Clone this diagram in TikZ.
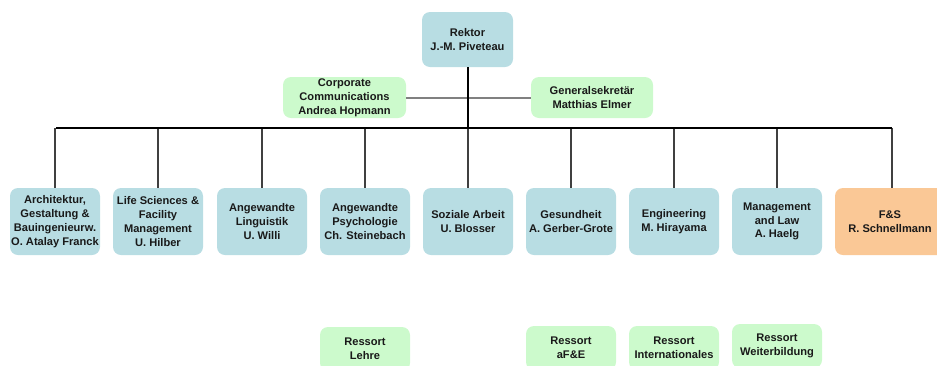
\documentclass[tikz,border=0pt]{standalone}
\usepackage{fontspec}
\setmainfont{Liberation Sans}
\definecolor{boxblue}{RGB}{184,221,227}
\definecolor{boxgreen}{RGB}{204,250,204}
\definecolor{boxorange}{RGB}{250,200,150}
\definecolor{txt}{RGB}{25,25,25}
\begin{document}
\begin{tikzpicture}[x=1pt,y=-1pt,
  base/.style={rounded corners=8pt, align=center, inner sep=0pt, text=txt,
    font=\bfseries\fontsize{11.1}{13.8}\selectfont},
  unit/.style={base, fill=boxblue, minimum width=90pt, minimum height=67pt},
  staff/.style={base, fill=boxgreen, minimum height=41pt},
  ressort/.style={base, fill=boxgreen, minimum width=90pt, minimum height=44pt},
  drop/.style={draw=black!75, line width=1.2pt},
  busline/.style={draw=black, line width=1.4pt},
  stem/.style={draw=black, line width=2.6pt},
  staffline/.style={draw=black!50, line width=2pt}]
\useasboundingbox (0,0) rectangle (937,365);

% top
\node[unit, minimum width=91pt, minimum height=55pt] (rektor) at (467.5,39.5) {Rektor\\J.-M. Piveteau};
\node[staff, minimum width=123pt] (corp) at (344.5,97.5) {Corporate\\Communications\\Andrea Hopmann};
\node[staff, minimum width=122pt] (gen) at (592,97.5) {Generalsekretär\\Matthias Elmer};

% units
\node[unit] (u1) at (55,221.5) {Architektur,\\Gestaltung \&\\Bauingenieurw.\\O. Atalay Franck};
\node[unit] (u2) at (158,221.5) {Life Sciences \&\\Facility\\Management\\U. Hilber};
\node[unit] (u3) at (262,221.5) {Angewandte\\Linguistik\\U. Willi};
\node[unit] (u4) at (365,221.5) {Angewandte\\Psychologie\\Ch. Steinebach};
\node[unit] (u5) at (468,221.5) {Soziale Arbeit\\U. Blosser};
\node[unit] (u6) at (571,221.5) {Gesundheit\\A. Gerber-Grote};
\node[unit] (u7) at (674,221.5) {Engineering\\M. Hirayama};
\node[unit] (u8) at (777,221.5) {Management\\and Law\\A. Haelg};
\node[base, fill=boxorange, minimum width=110pt, minimum height=67pt] (u9) at (890,221.5) {F\&S\\R. Schnellmann};

% ressorts
\node[ressort] (r1) at (365,349) {Ressort\\Lehre};
\node[ressort] (r2) at (571,348) {Ressort\\aF\&E};
\node[ressort] (r3) at (674,348) {Ressort\\Internationales};
\node[ressort] (r4) at (777,346) {Ressort\\Weiterbildung};

% connectors
\coordinate (busL) at (56,128);
\coordinate (busR) at (892,128);
\coordinate (stemEnd) at (468,128);
\draw[staffline] (corp.east) -- (gen.west);
\foreach \n in {u1,u2,u3,u4,u5,u6,u7,u8}
  \draw[drop] (\n.north) -- (\n.north |- busL);
\draw[drop] (u9.north -| busR) -- (busR);
\draw[busline] (busL) -- (busR);
\draw[stem] (rektor.south -| stemEnd) -- (stemEnd);
\end{tikzpicture}
\end{document}
